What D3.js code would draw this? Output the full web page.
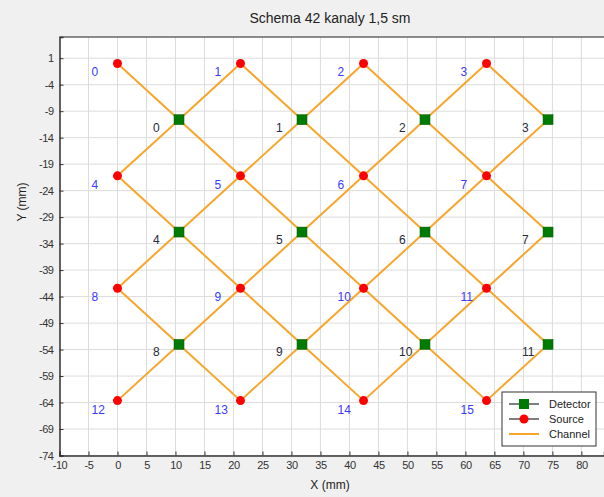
<!DOCTYPE html>
<html>
<head>
<meta charset="utf-8">
<script src="https://cdn.jsdelivr.net/npm/d3@7"></script>
<style>
  body { margin: 0; background: #f0f0f0; }
  svg { display: block; font-family: "Liberation Sans", Arial, sans-serif; }
</style>
</head>
<body>
<script>
// sources (red) and detectors (green), mm
var sourceX = [0, 21.21, 42.43, 63.64, 0, 21.21, 42.43, 63.64, 0, 21.21, 42.43, 63.64, 0, 21.21, 42.43, 63.64];
var sourceY = [0, 0, 0, 0, -21.21, -21.21, -21.21, -21.21, -42.43, -42.43, -42.43, -42.43, -63.64, -63.64, -63.64, -63.64];
var detectorX = [10.61, 31.82, 53.03, 74.25, 10.61, 31.82, 53.03, 74.25, 10.61, 31.82, 53.03, 74.25];
var detectorY = [-10.61, -10.61, -10.61, -10.61, -31.82, -31.82, -31.82, -31.82, -53.03, -53.03, -53.03, -53.03];

// [detector, source]
var channels = [
  [0, 0], [0, 1], [0, 4], [0, 5],
  [1, 1], [1, 2], [1, 5], [1, 6],
  [2, 2], [2, 3], [2, 6], [2, 7],
  [3, 3], [3, 7],
  [4, 4], [4, 5], [4, 8], [4, 9],
  [5, 5], [5, 6], [5, 9], [5, 10],
  [6, 6], [6, 7], [6, 10], [6, 11],
  [7, 7], [7, 11],
  [8, 8], [8, 9], [8, 12], [8, 13],
  [9, 9], [9, 10], [9, 13], [9, 14],
  [10, 10], [10, 11], [10, 14], [10, 15],
  [11, 11], [11, 15]
];

var xTicks = [-10, -5, 0, 5, 10, 15, 20, 25, 30, 35, 40, 45, 50, 55, 60, 65, 70, 75, 80];
var yTicks = [1, -4, -9, -14, -19, -24, -29, -34, -39, -44, -49, -54, -59, -64, -69, -74];
var legendItems = ['Detector', 'Source', 'Channel'];

var width = 604;
var height = 497;

var plotLeft = 59.5, plotRight = 604, plotTop = 37, plotBottom = 455.5;

var svg = d3.select('body').append('svg')
    .attr('width', width)
    .attr('height', height);

svg.append('rect')
    .attr('width', width).attr('height', height)
    .attr('fill', '#f0f0f0');

svg.append('rect')
    .attr('x', plotLeft).attr('y', plotTop)
    .attr('width', plotRight - plotLeft).attr('height', plotBottom - plotTop)
    .attr('fill', '#fff');

var x = d3.scaleLinear().domain([-10, 83.9]).range([plotLeft, plotRight]);
var y = d3.scaleLinear().domain([-74, 5]).range([plotBottom, plotTop]);

// grid
svg.append('g').selectAll('line').data(xTicks).enter().append('line')
    .attr('x1', function(d) { return x(d); })
    .attr('x2', function(d) { return x(d); })
    .attr('y1', plotTop).attr('y2', plotBottom)
    .attr('stroke', '#dcdcdc').attr('stroke-width', 1);

svg.append('g').selectAll('line').data(yTicks).enter().append('line')
    .attr('x1', plotLeft).attr('x2', plotRight)
    .attr('y1', function(d) { return y(d); })
    .attr('y2', function(d) { return y(d); })
    .attr('stroke', '#dcdcdc').attr('stroke-width', 1);

// top frame
svg.append('line')
    .attr('x1', plotLeft).attr('x2', plotRight)
    .attr('y1', plotTop).attr('y2', plotTop)
    .attr('stroke', '#666').attr('stroke-width', 1.5);

// axes (plain hyphen for negatives, like the original)
var fmt = function(d) { return String(d); };
var xAxis = d3.axisBottom(x).tickValues(xTicks).tickFormat(fmt).tickSize(-4).tickPadding(6);
var yAxis = d3.axisLeft(y).tickValues(yTicks).tickFormat(fmt).tickSize(-4).tickPadding(6);

var gx = svg.append('g').attr('transform', 'translate(0,' + plotBottom + ')').call(xAxis);
var gy = svg.append('g').attr('transform', 'translate(' + plotLeft + ',0)').call(yAxis);

[gx, gy].forEach(function(g) {
  g.select('.domain').attr('stroke', '#333').attr('stroke-width', 1.5);
  g.selectAll('.tick line').attr('stroke', '#333');
  g.selectAll('.tick text')
    .attr('fill', '#333')
    .style('font-size', '11px')
    .style('font-family', '"Liberation Sans", Arial, sans-serif')
    .style('letter-spacing', '-0.5px');
});

// channels
svg.append('g').selectAll('line').data(channels).enter().append('line')
    .attr('x1', function(d) { return x(detectorX[d[0]]); })
    .attr('y1', function(d) { return y(detectorY[d[0]]); })
    .attr('x2', function(d) { return x(sourceX[d[1]]); })
    .attr('y2', function(d) { return y(sourceY[d[1]]); })
    .attr('stroke', '#f7a62a').attr('stroke-width', 2);

// detectors
svg.append('g').selectAll('rect').data(detectorX).enter().append('rect')
    .attr('x', function(d) { return x(d) - 5; })
    .attr('y', function(d, i) { return y(detectorY[i]) - 5; })
    .attr('width', 10).attr('height', 10)
    .attr('fill', '#007a00').attr('stroke', '#006000').attr('stroke-width', 0.5);

svg.append('g').selectAll('text').data(detectorX).enter().append('text')
    .attr('x', function(d) { return x(d) - 26; })
    .attr('y', function(d, i) { return y(detectorY[i]) + 12; })
    .attr('fill', '#2a2a3a')
    .style('font-size', '12px')
    .text(function(d, i) { return i; });

// sources
svg.append('g').selectAll('circle').data(sourceX).enter().append('circle')
    .attr('cx', function(d) { return x(d); })
    .attr('cy', function(d, i) { return y(sourceY[i]); })
    .attr('r', 4.5)
    .attr('fill', '#ff0000');

svg.append('g').selectAll('text').data(sourceX).enter().append('text')
    .attr('x', function(d) { return x(d) - 26; })
    .attr('y', function(d, i) { return y(sourceY[i]) + 13; })
    .attr('fill', '#3a3aff')
    .style('font-size', '12px')
    .text(function(d, i) { return i; });

// title and axis labels
svg.append('text')
    .attr('x', 330).attr('y', 23)
    .attr('text-anchor', 'middle')
    .attr('fill', '#222')
    .style('font-size', '14px')
    .text('Schema 42 kanaly 1,5 sm');

svg.append('text')
    .attr('x', 330).attr('y', 489)
    .attr('text-anchor', 'middle')
    .attr('fill', '#222')
    .style('font-size', '12px')
    .text('X (mm)');

svg.append('text')
    .attr('transform', 'translate(26,202) rotate(-90)')
    .attr('text-anchor', 'middle')
    .attr('fill', '#222')
    .style('font-size', '12px')
    .text('Y (mm)');

// legend
var legend = svg.append('g').attr('transform', 'translate(502,392)');

legend.append('rect')
    .attr('width', 94).attr('height', 54)
    .attr('fill', '#fff').attr('stroke', '#333').attr('stroke-width', 1);

legendItems.forEach(function(name, i) {
  var ly = 12 + i * 15;
  legend.append('line')
    .attr('x1', 7).attr('x2', 37)
    .attr('y1', ly).attr('y2', ly)
    .attr('stroke', i === 2 ? '#f7a62a' : '#555')
    .attr('stroke-width', i === 2 ? 2 : 1.5);
  if (i === 0) {
    legend.append('rect')
      .attr('x', 17).attr('y', ly - 5)
      .attr('width', 10).attr('height', 10)
      .attr('fill', '#007a00');
  }
  if (i === 1) {
    legend.append('circle')
      .attr('cx', 22).attr('cy', ly)
      .attr('r', 4.5)
      .attr('fill', '#ff0000');
  }
  legend.append('text')
    .attr('x', 47).attr('y', ly + 4)
    .attr('fill', '#222')
    .style('font-size', '11px')
    .text(name);
});
</script>
</body>
</html>
